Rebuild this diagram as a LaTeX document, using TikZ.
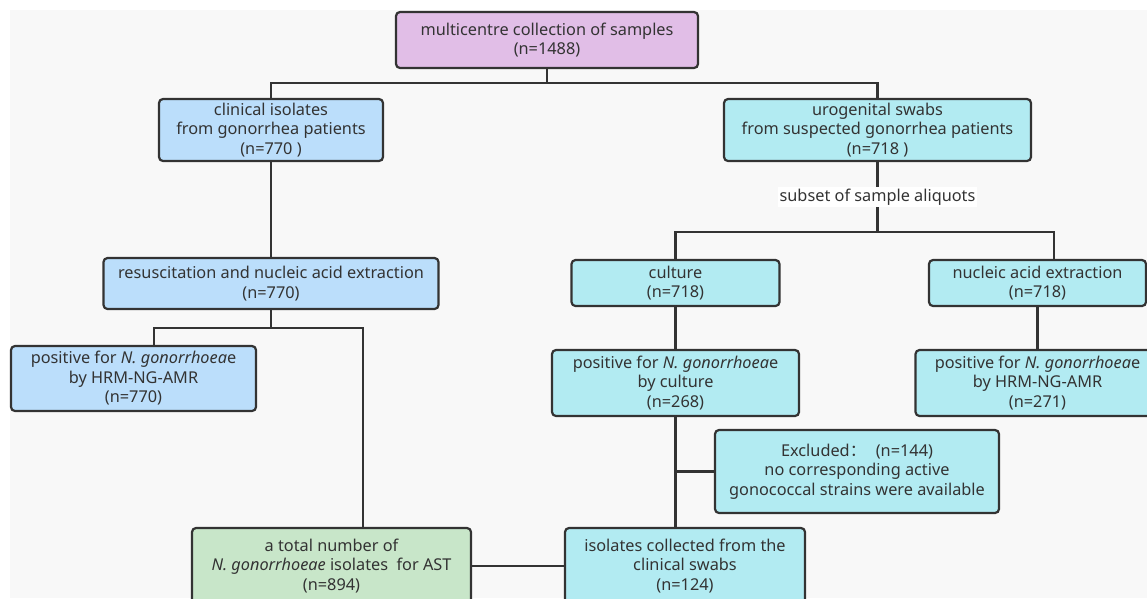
\documentclass[tikz,border=0pt]{standalone}
\usepackage{fontspec}
\setmainfont{Noto Sans}
\newfontfamily\cjkfont{Noto Sans CJK SC}
\usetikzlibrary{calc}
\definecolor{bgc}{HTML}{F8F8F8}
\definecolor{lilac}{HTML}{E1BEE7}
\definecolor{lblue}{HTML}{BBDEFB}
\definecolor{lcyan}{HTML}{B2EBF2}
\definecolor{lgreen}{HTML}{C8E6C9}
\definecolor{linec}{HTML}{333333}
\definecolor{textc}{HTML}{333333}
\begin{document}
\begin{tikzpicture}[x=1pt,y=-1pt,
  box/.style={draw=linec, line width=2.2pt, rounded corners=4pt, align=center,
    inner sep=0pt, text=textc, font=\fontsize{16.3}{19.5}\selectfont},
  conn/.style={draw=linec, line width=2.2pt},
  lbl/.style={fill=white, text=textc, inner sep=2pt, font=\fontsize{16.3}{19.5}\selectfont}]
\clip (0,0) rectangle (1147,598);
\fill[white] (0,0) rectangle (1147,598);
\fill[bgc] (10,10) rectangle (1147,598);

\node[box, fill=lilac, minimum width=302pt, minimum height=56pt] (top) at (547,40)
  {multicentre collection of samples\\(n=1488)};
\node[box, fill=lblue, minimum width=224pt, minimum height=62pt] (clin) at (271,130)
  {clinical isolates\\from gonorrhea patients\\(n=770 )};
\node[box, fill=lcyan, minimum width=307pt, minimum height=62pt] (uro) at (877.5,130)
  {urogenital swabs\\from suspected gonorrhea patients\\(n=718 )};
\node[box, fill=lblue, minimum width=335pt, minimum height=51pt] (resus) at (271,283.5)
  {resuscitation and nucleic acid extraction\\(n=770)};
\node[box, fill=lcyan, minimum width=208pt, minimum height=46pt] (culture) at (675.5,283)
  {culture\\(n=718)};
\node[box, fill=lcyan, minimum width=217pt, minimum height=46pt] (nae) at (1037.5,283)
  {nucleic acid extraction\\(n=718)};
\node[box, fill=lblue, minimum width=245pt, minimum height=65pt] (posL) at (133.5,378.5)
  {positive for {\itshape N. gonorrhoea}e\\by HRM-NG-AMR\\(n=770)};
\node[box, fill=lcyan, minimum width=247pt, minimum height=66pt] (posC) at (675.5,383)
  {positive for {\itshape N. gonorrhoea}e\\by culture\\(n=268)};
\node[box, fill=lcyan, minimum width=244pt, minimum height=66pt] (posR) at (1037.5,383)
  {positive for {\itshape N. gonorrhoea}e\\by HRM-NG-AMR\\(n=271)};
\node[box, fill=lcyan, minimum width=284pt, minimum height=83pt] (excl) at (857,471.5)
  {Excluded{\cjkfont ：}\hspace{0.6em}(n=144)\\no corresponding active\\gonococcal strains were available};
\node[box, fill=lgreen, minimum width=279pt, minimum height=76pt] (total) at (331.5,566)
  {a total number of\\{\itshape N. gonorrhoeae} isolates\ \ for AST\\(n=894)};
\node[box, fill=lcyan, minimum width=240pt, minimum height=76pt] (iso) at (685,566)
  {isolates collected from the\\clinical swabs\\(n=124)};

% connectors
\coordinate (j1) at (top.south |- 0,83);
\draw[conn] (top.south) -- (j1);
\draw[conn] (clin.north) |- (j1) -| (uro.north);
\draw[conn] (clin.south) -- (resus.north);

\coordinate (j2) at (uro.south |- 0,232);
\draw[conn] (uro.south) -- (j2) node[midway, lbl] {subset of sample aliquots};
\coordinate (naein) at ($(nae.north west)!0.576!(nae.north east)$);
\draw[conn] (culture.north) |- (j2) -| (naein);

\coordinate (j3) at (resus.south |- 0,328);
\draw[conn] (resus.south) -- (j3);
\coordinate (posLin) at ($(posL.north west)!0.584!(posL.north east)$);
\coordinate (totalin) at ($(total.north west)!0.613!(total.north east)$);
\draw[conn] (posLin) |- (j3) -| (totalin);

\draw[conn] (culture.south) -- (posC.north);
\draw[conn] (nae.south) -- (posR.north);
\draw[conn] (posC.south) -- (posC.south |- iso.north);
\draw[conn] (excl.west) -- (excl.west -| posC.south);
\draw[conn] (total.east) -- (iso.west);
\end{tikzpicture}
\end{document}
